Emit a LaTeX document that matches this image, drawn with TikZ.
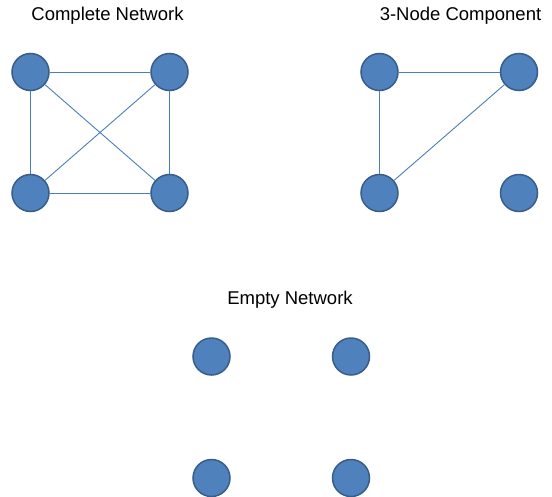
\documentclass[tikz,border=0pt]{standalone}
\usepackage{fontspec}
\setmainfont{Liberation Sans}
\definecolor{nodefill}{HTML}{4F81BD}
\definecolor{nodeline}{HTML}{385D8A}
\definecolor{edgecol}{HTML}{4A7EBB}
\begin{document}
\begin{tikzpicture}[x=1pt,y=-1pt,
  vtx/.style={circle,fill=nodefill,draw=nodeline,line width=1.5pt,minimum size=37pt,inner sep=0pt},
  edge/.style={draw=edgecol,line width=0.9pt},
  ttl/.style={font=\fontsize{18.5}{21}\selectfont,inner sep=0pt}]
\useasboundingbox (0,0) rectangle (552,496);
% titles
\node[ttl] (t1) at (107.5,16) {Complete Network};
\node[ttl] (t2) at (460.5,16) {3-Node Component};
\node[ttl] (t3) at (290,300) {Empty Network};
% complete network
\node[vtx] (a1) at (30.5,72) {};
\node[vtx] (a2) at (169.5,72) {};
\node[vtx] (a3) at (30.5,193) {};
\node[vtx] (a4) at (169.5,193) {};
\draw[edge] (a1) -- (a2);
\draw[edge] (a1) -- (a3);
\draw[edge] (a1) -- (a4);
\draw[edge] (a2) -- (a3);
\draw[edge] (a2) -- (a4);
\draw[edge] (a3) -- (a4);
% 3-node component
\node[vtx] (b1) at (379.5,72) {};
\node[vtx] (b2) at (519,72) {};
\node[vtx] (b3) at (379.5,193) {};
\node[vtx] (b4) at (519,193) {};
\draw[edge] (b1) -- (b2);
\draw[edge] (b1) -- (b3);
\draw[edge] (b2) -- (b3);
% empty network
\node[vtx] (c1) at (211.5,356.5) {};
\node[vtx] (c2) at (351,356.5) {};
\node[vtx] (c3) at (211.5,478) {};
\node[vtx] (c4) at (351,478) {};
\end{tikzpicture}
\end{document}
